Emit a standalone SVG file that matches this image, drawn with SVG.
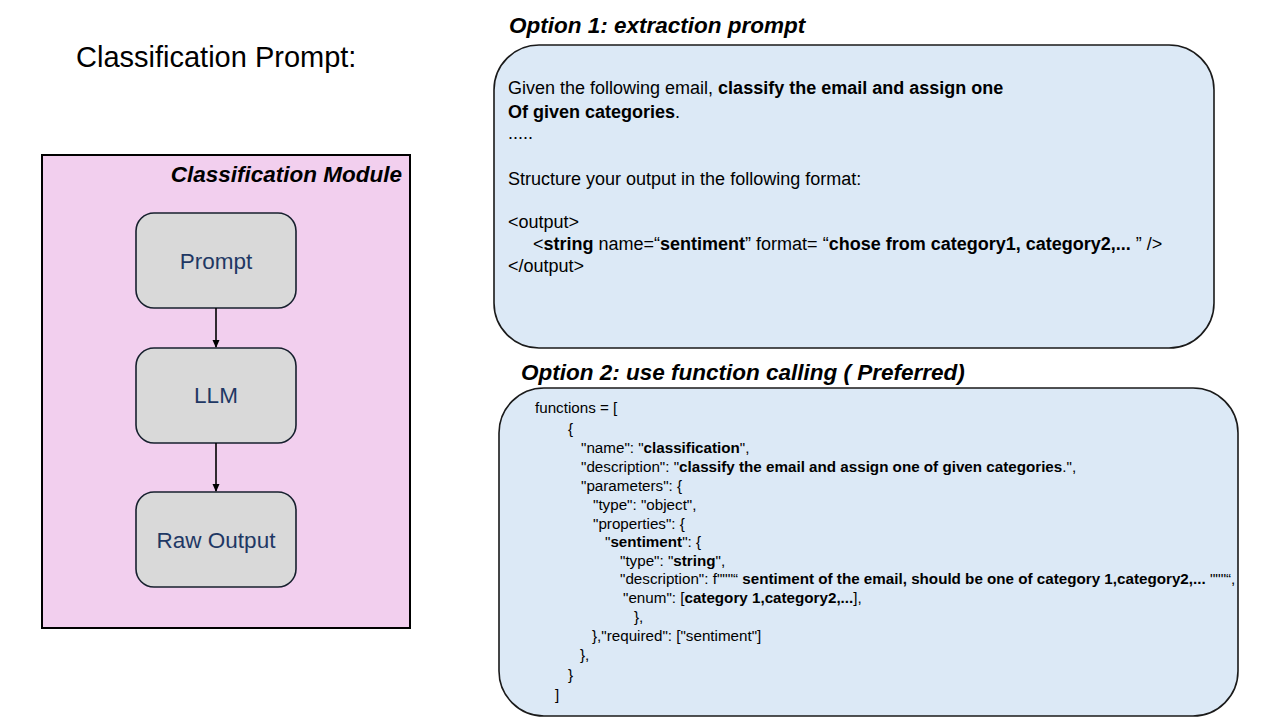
<svg xmlns="http://www.w3.org/2000/svg" width="1280" height="720" viewBox="0 0 1280 720">
<defs>
<style>
.t{font-family:"Liberation Sans",Arial,sans-serif;fill:#000}
.b{font-weight:bold}
.node rect{fill:#d9d9d9;stroke:#17202e;stroke-width:1.6}
.node text{font-family:"Liberation Sans",Arial,sans-serif;font-size:22.5px;fill:#1f3864;text-anchor:middle}
.panel{fill:#dce9f6;stroke:#1a1a1a;stroke-width:1.6}
.p1{font-size:18px}
.p2{font-size:15.2px}
.hd{font-family:"Liberation Sans",Arial,sans-serif;font-weight:bold;font-style:italic;font-size:22.5px;fill:#000}
</style>
<marker id="ah" markerWidth="8" markerHeight="8" refX="7" refY="4" orient="auto" markerUnits="userSpaceOnUse">
<path d="M0,0.5 L8,4 L0,7.5 z" fill="#000"/>
</marker>
</defs>
<rect width="1280" height="720" fill="#fff"/>
<text class="t" x="76" y="67" font-size="29">Classification Prompt:</text>

<g id="module">
<rect x="42" y="155" width="368" height="473" fill="#f2cfee" stroke="#000" stroke-width="2"/>
<text class="hd" x="402" y="182" text-anchor="end" font-size="23.5">Classification Module</text>
</g>

<g id="prompt" class="node"><rect x="136" y="213" width="160" height="95" rx="18"/><text x="216" y="269">Prompt</text></g>
<g id="llm" class="node"><rect x="136" y="348" width="160" height="95" rx="18"/><text x="216" y="403">LLM</text></g>
<g id="raw" class="node"><rect x="136" y="492" width="160" height="95" rx="18"/><text x="216" y="548">Raw Output</text></g>

<g id="connectors" stroke="#000" stroke-width="1.6" fill="none">
<line x1="216" y1="308" x2="216" y2="347" marker-end="url(#ah)"/>
<line x1="216" y1="443" x2="216" y2="491" marker-end="url(#ah)"/>
</g>

<g id="option1">
<text class="hd" x="509" y="33">Option 1: extraction prompt</text>
<rect class="panel" x="494" y="45" width="720" height="303" rx="45"/>
<g class="t p1">
<text x="508" y="94">Given the following email, <tspan class="b">classify the email and assign one</tspan></text>
<text x="508" y="118"><tspan class="b">Of given categories</tspan>.</text>
<text x="508" y="139">.....</text>
<text x="508" y="185">Structure your output in the following format:</text>
<text x="508" y="228">&lt;output&gt;</text>
<text x="533" y="250">&lt;<tspan class="b">string</tspan> name=“<tspan class="b">sentiment</tspan>” format= “<tspan class="b">chose from category1, category2,... </tspan>” /&gt;</text>
<text x="508" y="272">&lt;/output&gt;</text>
</g>
</g>

<g id="option2">
<text class="hd" x="521" y="380">Option 2: use function calling ( Preferred)</text>
<rect class="panel" x="499" y="388" width="739" height="328" rx="45"/>
<g class="t p2">
<text x="535" y="413">functions = [</text>
<text x="568" y="434">{</text>
<text x="581" y="453">"name": "<tspan class="b">classification</tspan>",</text>
<text x="581" y="472">"description": "<tspan class="b">classify the email and assign one of given categories</tspan>.",</text>
<text x="581" y="491">"parameters": {</text>
<text x="593" y="510">"type": "object",</text>
<text x="593" y="529">"properties": {</text>
<text x="605" y="547">"<tspan class="b">sentiment</tspan>": {</text>
<text x="620" y="566">"type": "<tspan class="b">string</tspan>",</text>
<text x="620" y="584">"description": f"""“ <tspan class="b">sentiment of the email, should be one of category 1,category2,...</tspan> """“,</text>
<text x="623" y="603">"enum": [<tspan class="b">category 1,category2,...</tspan>],</text>
<text x="634" y="622">},</text>
<text x="592" y="641">},"required": ["sentiment"]</text>
<text x="580" y="660">},</text>
<text x="568" y="680">}</text>
<text x="555" y="700">]</text>
</g>
</g>
</svg>
